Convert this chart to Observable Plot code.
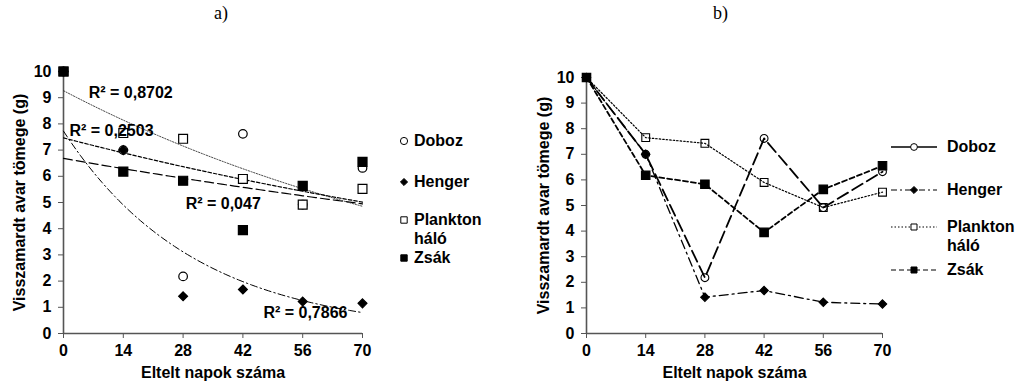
<!DOCTYPE html>
<html><head><meta charset="utf-8">
<script src="https://cdn.jsdelivr.net/npm/d3@7"></script>
<script src="https://cdn.jsdelivr.net/npm/@observablehq/plot@0.6"></script>
<style>
body{margin:0;background:#fff;}
#wrap{position:relative;width:1015px;height:381px;overflow:hidden;font-family:"Liberation Sans",Arial,sans-serif;font-weight:bold;color:#000;}
.abs{position:absolute;white-space:nowrap;}
.title{font-family:"Liberation Serif","Times New Roman",serif;font-weight:normal;font-size:18px;}
.leg{font-size:16px;line-height:19px;}
</style></head><body>
<div id="wrap">
  <div class="abs title" style="left:214px;top:3px;">a)</div>
  <div class="abs title" style="left:713px;top:3px;">b)</div>
  <div id="pa" class="abs" style="left:0;top:0;"></div>
  <div id="pb" class="abs" style="left:500px;top:0;"></div>
  <div id="la"></div>
  <div id="lb"></div>
</div>
<script>
// ---- data ----
const days = [0, 14, 28, 42, 56, 70];
const seriesNames = ["Doboz", "Henger", "Plankton háló", "Zsák"];
const doboz    = [10, 7.0, 2.18, 7.62, 4.92, 6.32];
const henger   = [10, 7.0, 1.42, 1.68, 1.22, 1.15];
const plankton = [10, 7.65, 7.43, 5.90, 4.92, 5.52];
const zsak     = [10, 6.18, 5.83, 3.95, 5.63, 6.55];
const yTicks = [0, 1, 2, 3, 4, 5, 6, 7, 8, 9, 10];
const xTicks = [0, 14, 28, 42, 56, 70];
const r2Text = ["R² = 0,047", "R² = 0,7866", "R² = 0,8702", "R² = 0,2503"]; // Doboz, Henger, Plankton, Zsák
const r2AnchorX = [28.6, 46.8, 5.9, 1.4];
const r2AnchorY = [4.96, 0.8, 9.2, 7.75];
const xLabel = "Eltelt napok száma";
const yLabel = "Visszamardt avar tömege (g)";

const values = [doboz, henger, plankton, zsak];
const rows = [];
seriesNames.forEach((s, i) => days.forEach((d, j) => rows.push({series: s, day: d, v: values[i][j]})));

// marker / line styles per series
const sym = {"Doboz": "circle", "Henger": "diamond2", "Plankton háló": "square", "Zsák": "square"};
const fillA = {"Doboz": "white", "Henger": "black", "Plankton háló": "white", "Zsák": "black"};
const fillB = {"Doboz": "none", "Henger": "black", "Plankton háló": "none", "Zsák": "black"};
const rA = {"Doboz": 4.3, "Henger": 4, "Plankton háló": 5, "Zsák": 5.1};
const rB = {"Doboz": 3.9, "Henger": 3.8, "Plankton háló": 4.4, "Zsák": 4.8};
const trendDash = {"Doboz": "9,4", "Henger": "7,3,1.5,3", "Plankton háló": "1.3,1.5", "Zsák": "3.5,2"};
const trendW = {"Doboz": 1.2, "Henger": 1, "Plankton háló": 0.9, "Zsák": 1.2};
const lineDash = {"Doboz": "12,5", "Henger": "9,4,2,4", "Plankton háló": "1.5,2", "Zsák": "5,3"};
const lineW = {"Doboz": 1.8, "Henger": 1.3, "Plankton háló": 1.2, "Zsák": 1.8};
const legDash = {"Doboz": "none", "Henger": "6,3,2,3", "Plankton háló": "1.5,2", "Zsák": "5,3"};

// exponential least-squares trend (Excel style) computed from the data
function expFit(xs, ys) {
  const ly = ys.map(Math.log);
  const mx = d3.mean(xs), my = d3.mean(ly);
  const b = d3.sum(xs, (x, i) => (x - mx) * (ly[i] - my)) / d3.sum(xs, x => (x - mx) ** 2);
  const a = Math.exp(my - b * mx);
  return x => a * Math.exp(b * x);
}
const trendRows = [];
seriesNames.forEach((s, i) => {
  const f = expFit(days, values[i]);
  d3.range(0, 70.01, 1).forEach(x => trendRows.push({series: s, day: x, v: f(x)}));
});

const font = {fontFamily: '"Liberation Sans", Arial, sans-serif', fontSize: "16px", fontWeight: "bold", color: "#000", background: "transparent", overflow: "visible"};
const axisCol = "#555";

function axes(labelOffY) {
  return [
    Plot.axisX({ticks: xTicks, tickSize: 5, tickPadding: 6, stroke: axisCol, label: xLabel, labelAnchor: "center", labelArrow: "none", labelOffset: 44, fontSize: 16}),
    Plot.axisY({ticks: yTicks, tickSize: 5, tickPadding: 7, stroke: axisCol, label: yLabel, labelAnchor: "center", labelArrow: "none", labelOffset: labelOffY, fontSize: 16}),
    Plot.ruleX([0], {stroke: axisCol, strokeWidth: 1.6}),
    Plot.ruleY([0], {stroke: axisCol, strokeWidth: 1.6})
  ];
}

// Panel a
const pa = Plot.plot({
  width: 400, height: 381, marginLeft: 63, marginRight: 38, marginTop: 71, marginBottom: 48,
  x: {domain: [0, 70]}, y: {domain: [0, 10]},
  style: font,
  marks: [
    ...axes(50),
    ...seriesNames.map(s => Plot.line(trendRows.filter(r => r.series === s), {x: "day", y: "v", stroke: s === "Plankton háló" ? "#333" : "#000", strokeWidth: trendW[s], strokeDasharray: trendDash[s]})),
    ...seriesNames.map(s => Plot.dot(rows.filter(r => r.series === s), {x: "day", y: "v", symbol: () => sym[s], r: rA[s], fill: fillA[s], stroke: "black", strokeWidth: 1.2})),
    Plot.text(r2Text, {x: (d, i) => r2AnchorX[i], y: (d, i) => r2AnchorY[i], text: d => d, textAnchor: "start", fontSize: 16, fontWeight: "bold", fill: "#000"})
  ]
});
document.getElementById("pa").append(pa);

// Panel b
const pb = Plot.plot({
  width: 390, height: 381, marginLeft: 86, marginRight: 8, marginTop: 77, marginBottom: 48,
  x: {domain: [0, 70]}, y: {domain: [0, 10]},
  style: font,
  marks: [
    ...axes(49),
    ...seriesNames.map(s => Plot.line(rows.filter(r => r.series === s), {x: "day", y: "v", stroke: "black", strokeWidth: lineW[s], strokeDasharray: lineDash[s]})),
    ...seriesNames.map(s => Plot.dot(rows.filter(r => r.series === s), {x: "day", y: "v", symbol: () => sym[s], r: rB[s], fill: fillB[s], stroke: "black", strokeWidth: 1.1}))
  ]
});
document.getElementById("pb").append(pb);

// Legends
function markerSvg(s, r, fill, w, dash, lw) {
  const W = w || 12;
  const size = Math.PI * r * r;
  const path = d3.symbol(({circle: d3.symbolCircle, diamond2: d3.symbolDiamond2, square: d3.symbolSquare})[sym[s]], size)();
  const line = dash !== undefined ? `<line x1="0" x2="${W}" y1="10" y2="10" stroke="black" stroke-width="${lw}" stroke-dasharray="${dash}"/>` : "";
  return `<svg width="${W}" height="19" style="vertical-align:top;overflow:visible">${line}<path d="${path}" transform="translate(${W/2},10)" fill="${fill}" stroke="black" stroke-width="1"/></svg>`;
}
const legATop = [131, 172, 210, 248];
const legBTop = [137, 180, 217, 260];
const la = document.getElementById("la");
seriesNames.forEach((s, i) => {
  const parts = s.split(" ");
  const d = document.createElement("div");
  d.className = "abs leg";
  d.style.left = "398px"; d.style.top = legATop[i] + "px";
  d.innerHTML = `<span style="display:inline-block;width:16px">${markerSvg(s, s === "Henger" ? 3.2 : 3.6, fillA[s] === "white" ? "white" : "black", 12)}</span><span style="display:inline-block;vertical-align:top">${parts.join("<br>")}</span>`;
  la.append(d);
});
const lb = document.getElementById("lb");
seriesNames.forEach((s, i) => {
  const parts = s.split(" ");
  const d = document.createElement("div");
  d.className = "abs leg";
  d.style.left = "891px"; d.style.top = legBTop[i] + "px";
  d.innerHTML = `<span style="display:inline-block;width:56px">${markerSvg(s, s === "Henger" ? 3.2 : 3.4, fillB[s] === "none" ? "white" : "black", 46, legDash[s], s === "Doboz" ? 1.4 : 1.2)}</span><span style="display:inline-block;vertical-align:top">${parts.join("<br>")}</span>`;
  lb.append(d);
});
</script>
</body></html>
